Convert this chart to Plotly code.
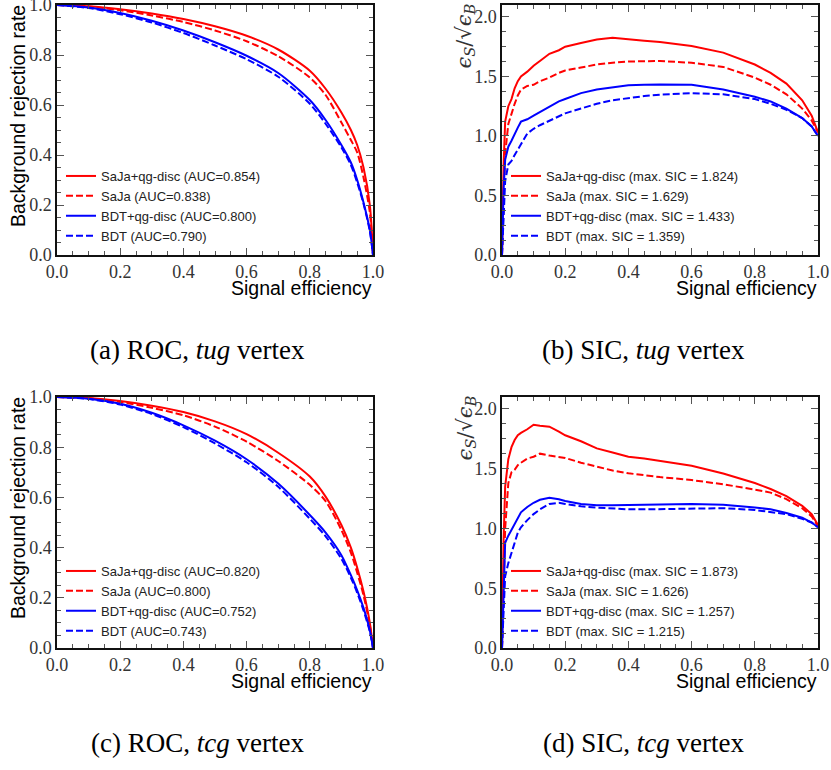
import plotly.graph_objects as go

# ---------------- data ----------------
roc_eff = [0, 0.1, 0.2, 0.3, 0.4, 0.5, 0.6, 0.7, 0.8, 0.85, 0.9, 0.93, 0.95, 0.97, 0.99, 1.0]

# (a) ROC, tug vertex
roc_tug_saja_qg = [1.0, 0.995, 0.983, 0.966, 0.944, 0.915, 0.877, 0.822, 0.737, 0.665, 0.57, 0.50, 0.44, 0.35, 0.20, 0.0]
roc_tug_saja    = [1.0, 0.994, 0.979, 0.958, 0.932, 0.898, 0.855, 0.795, 0.71, 0.64, 0.53, 0.46, 0.41, 0.31, 0.17, 0.0]
roc_tug_bdt_qg  = [1.0, 0.99, 0.968, 0.937, 0.898, 0.851, 0.797, 0.728, 0.62, 0.54, 0.44, 0.37, 0.30, 0.21, 0.10, 0.0]
roc_tug_bdt     = [1.0, 0.988, 0.963, 0.93, 0.888, 0.838, 0.783, 0.713, 0.605, 0.525, 0.43, 0.36, 0.29, 0.205, 0.095, 0.0]

# (c) ROC, tcg vertex
roc_tcg_saja_qg = [1.0, 0.996, 0.984, 0.965, 0.94, 0.903, 0.852, 0.778, 0.683, 0.603, 0.49, 0.40, 0.32, 0.225, 0.10, 0.0]
roc_tcg_saja    = [1.0, 0.995, 0.98, 0.957, 0.927, 0.882, 0.822, 0.745, 0.65, 0.585, 0.47, 0.38, 0.30, 0.21, 0.09, 0.0]
roc_tcg_bdt_qg  = [1.0, 0.993, 0.973, 0.937, 0.887, 0.826, 0.752, 0.655, 0.53, 0.46, 0.37, 0.29, 0.23, 0.16, 0.07, 0.0]
roc_tcg_bdt     = [1.0, 0.992, 0.97, 0.932, 0.88, 0.815, 0.740, 0.642, 0.515, 0.445, 0.355, 0.28, 0.22, 0.15, 0.065, 0.0]

sic_eff = [0, 0.005, 0.01, 0.02, 0.03, 0.04, 0.05, 0.06, 0.08, 0.1, 0.12, 0.15, 0.18, 0.2,
           0.25, 0.3, 0.35, 0.4, 0.45, 0.5, 0.6, 0.7, 0.8, 0.85, 0.9, 0.95, 0.98, 1.0]

# (b) SIC, tug vertex
sic_tug_saja_qg = [0, 0.75, 1.12, 1.25, 1.31, 1.40, 1.46, 1.50, 1.54, 1.59, 1.63, 1.69, 1.72, 1.75,
                   1.78, 1.81, 1.824, 1.81, 1.80, 1.79, 1.755, 1.70, 1.60, 1.53, 1.44, 1.30, 1.17, 1.03]
sic_tug_saja    = [0, 0.5, 0.85, 1.10, 1.19, 1.27, 1.34, 1.39, 1.42, 1.43, 1.46, 1.49, 1.53, 1.55,
                   1.575, 1.60, 1.615, 1.625, 1.628, 1.629, 1.615, 1.58, 1.49, 1.43, 1.35, 1.23, 1.13, 1.03]
sic_tug_bdt_qg  = [0, 0.55, 0.80, 0.91, 0.96, 1.02, 1.07, 1.12, 1.14, 1.17, 1.20, 1.25, 1.29, 1.31,
                   1.36, 1.39, 1.41, 1.425, 1.43, 1.433, 1.43, 1.39, 1.33, 1.29, 1.23, 1.15, 1.08, 1.0]
sic_tug_bdt     = [0, 0.35, 0.62, 0.76, 0.79, 0.84, 0.88, 0.93, 1.02, 1.06, 1.09, 1.13, 1.17, 1.19,
                   1.23, 1.27, 1.30, 1.32, 1.335, 1.347, 1.359, 1.35, 1.31, 1.27, 1.22, 1.15, 1.08, 1.0]

# (d) SIC, tcg vertex
sic_tcg_saja_qg = [0, 0.9, 1.35, 1.58, 1.68, 1.74, 1.78, 1.80, 1.83, 1.868, 1.86, 1.852, 1.81, 1.78,
                   1.73, 1.67, 1.635, 1.60, 1.585, 1.565, 1.525, 1.46, 1.38, 1.33, 1.27, 1.19, 1.12, 1.03]
sic_tcg_saja    = [0, 0.6, 1.0, 1.38, 1.47, 1.49, 1.53, 1.55, 1.585, 1.60, 1.626, 1.61, 1.60, 1.59,
                   1.55, 1.515, 1.485, 1.462, 1.445, 1.43, 1.405, 1.37, 1.325, 1.30, 1.245, 1.17, 1.10, 1.02]
sic_tcg_bdt_qg  = [0, 0.55, 0.88, 0.94, 0.99, 1.04, 1.09, 1.135, 1.18, 1.215, 1.24, 1.257, 1.245, 1.23,
                   1.205, 1.195, 1.195, 1.195, 1.197, 1.20, 1.205, 1.198, 1.175, 1.16, 1.13, 1.09, 1.05, 1.01]
sic_tcg_bdt     = [0, 0.35, 0.6, 0.71, 0.80, 0.88, 0.965, 1.01, 1.07, 1.12, 1.16, 1.205, 1.215, 1.205,
                   1.185, 1.175, 1.165, 1.16, 1.16, 1.163, 1.17, 1.17, 1.155, 1.14, 1.12, 1.08, 1.05, 1.01]

roc_names_tug = ["SaJa+qg-disc (AUC=0.854)", "SaJa (AUC=0.838)", "BDT+qg-disc (AUC=0.800)", "BDT (AUC=0.790)"]
sic_names_tug = ["SaJa+qg-disc (max. SIC = 1.824)", "SaJa (max. SIC = 1.629)",
                 "BDT+qg-disc (max. SIC = 1.433)", "BDT (max. SIC = 1.359)"]
roc_names_tcg = ["SaJa+qg-disc (AUC=0.820)", "SaJa (AUC=0.800)", "BDT+qg-disc (AUC=0.752)", "BDT (AUC=0.743)"]
sic_names_tcg = ["SaJa+qg-disc (max. SIC = 1.873)", "SaJa (max. SIC = 1.626)",
                 "BDT+qg-disc (max. SIC = 1.257)", "BDT (max. SIC = 1.215)"]

captions = ["(a) ROC, <i>tug</i> vertex", "(b) SIC, <i>tug</i> vertex",
            "(c) ROC, <i>tcg</i> vertex", "(d) SIC, <i>tcg</i> vertex"]

# ---------------- figure ----------------
W, H = 831, 770
colors = ["#ff0000", "#ff0000", "#0000ff", "#0000ff"]
dashes = ["solid", "7px,3px", "solid", "7px,3px"]

fig = go.Figure()

panels = [
    ("", "legend", roc_eff, [roc_tug_saja_qg, roc_tug_saja, roc_tug_bdt_qg, roc_tug_bdt], roc_names_tug, True),
    ("2", "legend2", sic_eff, [sic_tug_saja_qg, sic_tug_saja, sic_tug_bdt_qg, sic_tug_bdt], sic_names_tug, False),
    ("3", "legend3", roc_eff, [roc_tcg_saja_qg, roc_tcg_saja, roc_tcg_bdt_qg, roc_tcg_bdt], roc_names_tcg, True),
    ("4", "legend4", sic_eff, [sic_tcg_saja_qg, sic_tcg_saja, sic_tcg_bdt_qg, sic_tcg_bdt], sic_names_tcg, False),
]

for suf, leg, xs, ys_list, names, smooth in panels:
    for ys, nm, c, d in zip(ys_list, names, colors, dashes):
        line = dict(color=c, width=2, dash=d)
        if smooth:
            line.update(shape="spline", smoothing=0.8)
        fig.add_trace(go.Scatter(
            x=xs, y=ys, mode="lines", name=nm, line=line,
            xaxis="x" + suf, yaxis="y" + suf, legend=leg, showlegend=True,
        ))

def px_x(p):
    return p / W

def px_y(p):
    return 1 - p / H

boxes = [(57, 373, 5, 255), (502, 818, 5, 255), (57, 373, 397, 648), (502, 818, 397, 648)]

serif = "Liberation Serif, Times New Roman, serif"
sans = "Liberation Sans, Arial, sans-serif"
tickfont = dict(family=serif, size=18, color="#333333")

def axis_common():
    return dict(
        showgrid=False, zeroline=False, showline=True, linecolor="#111111", linewidth=1.5,
        mirror="allticks", ticks="inside", ticklen=7, tickwidth=1, tickcolor="#555555",
        tickfont=tickfont, tickformat=".1f", ticklabelstandoff=0, automargin=False,
        ticklabeloverflow="allow",
    )

layout_axes = {}
for i, (l, r, t, b) in enumerate(boxes):
    suf = "" if i == 0 else str(i + 1)
    is_sic = i in (1, 3)
    xa = axis_common()
    xa.update(domain=[px_x(l), px_x(r)], range=[0, 1], tick0=0, dtick=0.2,
              anchor="y" + suf,
              minor=dict(dtick=0.05, tick0=0, ticks="inside", ticklen=4, tickwidth=1, tickcolor="#555555"))
    ya = axis_common()
    if is_sic:
        ya.update(range=[0, 2.1], tick0=0, dtick=0.5,
                  minor=dict(dtick=0.125, tick0=0, ticks="inside", ticklen=4, tickwidth=1, tickcolor="#555555"))
    else:
        ya.update(range=[0, 1], tick0=0, dtick=0.2,
                  minor=dict(dtick=0.05, tick0=0, ticks="inside", ticklen=4, tickwidth=1, tickcolor="#555555"))
    ya.update(domain=[px_y(b), px_y(t)], anchor="x" + suf)
    layout_axes["xaxis" + suf] = xa
    layout_axes["yaxis" + suf] = ya

fig.update_layout(**layout_axes)

legfont = dict(family=sans, size=13, color="#222222")
leg_pos = [(61, 161), (506, 161), (61, 556), (506, 556)]
for i, (lx, ly) in enumerate(leg_pos):
    key = "legend" if i == 0 else "legend" + str(i + 1)
    fig.update_layout(**{key: dict(
        x=px_x(lx), y=px_y(ly), xref="paper", yref="paper", xanchor="left", yanchor="top",
        bgcolor="rgba(0,0,0,0)", borderwidth=0, font=legfont, itemwidth=30,
        tracegroupgap=0, traceorder="normal",
    )})

annotations = []
for i, (l, r, t, b) in enumerate(boxes):
    annotations.append(dict(
        text="Signal efficiency", xref="paper", yref="paper",
        x=px_x(r), y=px_y(b + 33), xanchor="right", yanchor="middle", showarrow=False,
        borderpad=0, font=dict(family=sans, size=19.5, color="black"),
    ))
    if i in (0, 2):
        annotations.append(dict(
            text="Background rejection rate", xref="paper", yref="paper",
            x=px_x(18), y=px_y(t - 2), xanchor="center", yanchor="top", textangle=-90,
            showarrow=False, font=dict(family=sans, size=19.5, color="black"),
        ))
    else:
        annotations.append(dict(
            text="<i>ϵ</i><sub><i>S</i></sub>/√<i>ϵ</i><sub><i>B</i></sub>",
            xref="paper", yref="paper",
            x=px_x(465), y=px_y(t - 4), xanchor="center", yanchor="top", textangle=-90,
            showarrow=False, font=dict(family="DejaVu Serif, serif", size=21, color="#333333"),
        ))

cap_pos = [(197, 350), (643, 350), (197, 743), (643, 743)]
for txt, (cx, cy) in zip(captions, cap_pos):
    annotations.append(dict(
        text=txt, xref="paper", yref="paper", x=px_x(cx), y=px_y(cy),
        xanchor="center", yanchor="middle", showarrow=False,
        font=dict(family=serif, size=27, color="black"),
    ))

fig.update_layout(
    width=W, height=H, margin=dict(l=0, r=0, t=0, b=0, autoexpand=False),
    paper_bgcolor="white", plot_bgcolor="white",
    annotations=annotations, showlegend=True,
)

fig.write_html("out.html", config={"displayModeBar": False},
               post_script="document.body.style.margin='0px';document.body.style.overflow='hidden';")
